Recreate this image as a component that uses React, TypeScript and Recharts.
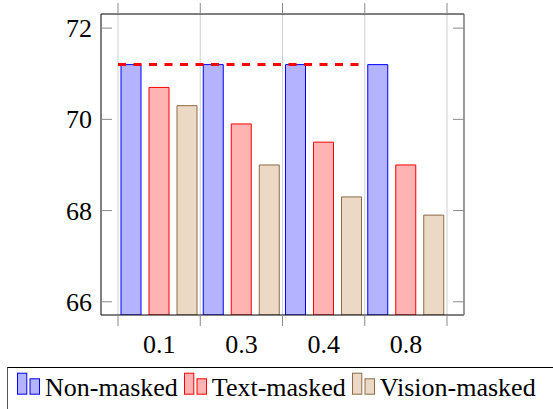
import React from 'react';
import { BarChart, Bar, XAxis, YAxis, CartesianGrid, ReferenceLine, Legend } from 'recharts';

const categories = ['0.1', '0.3', '0.4', '0.8'];
const nonMasked = [71.2, 71.2, 71.2, 71.2];
const textMasked = [70.7, 69.9, 69.5, 69.0];
const visionMasked = [70.3, 69.0, 68.3, 67.9];
const yTicks = [66, 68, 70, 72];
const yDomain = [65.71, 72.31];
const referenceValue = 71.2;
const seriesKeys = ['non', 'text', 'vision'];
const seriesNames = ['Non-masked', 'Text-masked', 'Vision-masked'];
const seriesFills = ['#b3b3ff', '#ffb3b3', '#ebd9c6'];
const seriesStrokes = ['#0000ff', '#ff0000', '#8c6b46'];

const data = categories.map((c, i) => ({
  cat: c,
  non: nonMasked[i],
  text: textMasked[i],
  vision: visionMasked[i],
}));

const FONT_X = 'Liberation Serif';
const FONT_Y = 'serif';
const FONT_L = 'Times New Roman';
const TICK_COLOR = '#8a8a8a';
const GRID_COLOR = '#cfcfcf';
const TICK_LEN = 11;
const X_PAD = 17;

const BottomTick = (props: any) => {
  const { x, y, payload, index, visibleTicksCount } = props;
  const half = payload && payload.offset != null ? payload.offset : 0;
  const isLast = index === (visibleTicksCount ?? categories.length) - 1;
  return (
    <g>
      <line x1={x - half} x2={x - half} y1={y} y2={y + TICK_LEN} stroke={TICK_COLOR} strokeWidth={1} />
      {isLast && (
        <line x1={x + half} x2={x + half} y1={y} y2={y + TICK_LEN} stroke={TICK_COLOR} strokeWidth={1} />
      )}
      <text x={x} y={y + 38} textAnchor="middle" style={{ fontFamily: FONT_X }} fontSize={26} fill="#000">
        {payload.value}
      </text>
    </g>
  );
};

const TopTick = (props: any) => {
  const { x, y, payload, index, visibleTicksCount } = props;
  const half = payload && payload.offset != null ? payload.offset : 0;
  const isLast = index === (visibleTicksCount ?? categories.length) - 1;
  return (
    <g>
      <line x1={x - half} x2={x - half} y1={y} y2={y - TICK_LEN} stroke={TICK_COLOR} strokeWidth={1} />
      {isLast && (
        <line x1={x + half} x2={x + half} y1={y} y2={y - TICK_LEN} stroke={TICK_COLOR} strokeWidth={1} />
      )}
    </g>
  );
};

const LeftTick = (props: any) => {
  const { x, y, payload } = props;
  return (
    <g>
      <line x1={x} x2={x + TICK_LEN} y1={y} y2={y} stroke={TICK_COLOR} strokeWidth={1} />
      <text x={x - 9} y={y + 9} textAnchor="end" style={{ fontFamily: FONT_Y }} fontSize={26} fill="#000">
        {payload.value}
      </text>
    </g>
  );
};

const RightTick = (props: any) => {
  const { x, y } = props;
  return <line x1={x - TICK_LEN} x2={x} y1={y} y2={y} stroke={TICK_COLOR} strokeWidth={1} />;
};

const gridX = (props: any) => {
  const s = props && props.xAxis && props.xAxis.scale;
  const call = (v: string): number => {
    if (typeof s === 'function') return s(v);
    if (s && typeof s.map === 'function') return s.map(v);
    return NaN;
  };
  const bw = s && typeof s.bandwidth === 'function' ? s.bandwidth() : NaN;
  const starts = categories.map((c) => call(c));
  const pts = [...starts, starts[starts.length - 1] + bw];
  if (pts.every((p) => typeof p === 'number' && isFinite(p))) return pts;
  const off = props.offset || {};
  const left = (off.left ?? 0) + X_PAD;
  const band = ((off.width ?? 0) - 2 * X_PAD) / categories.length;
  return [...categories.map((_, i) => left + i * band), left + categories.length * band];
};

const LegendBox = () => (
  <div
    style={{
      boxSizing: 'border-box',
      width: 580,
      height: 46,
      borderTop: '1px solid #000',
      borderLeft: '1px solid #555',
      display: 'flex',
      alignItems: 'flex-start',
      paddingLeft: 9,
      fontFamily: FONT_L,
      fontSize: 26,
      color: '#000',
      whiteSpace: 'nowrap',
    }}
  >
    {seriesNames.map((name, i) => (
      <div key={name} style={{ display: 'flex', alignItems: 'flex-start', marginRight: 6 }}>
        <svg width={23} height={30} style={{ display: 'block', marginRight: 5 }}>
          <rect x={0.5} y={5.2} width={9.3} height={21} fill={seriesFills[i]} stroke={seriesStrokes[i]} strokeWidth={1} />
          <rect x={13} y={10.8} width={9.5} height={15.4} fill={seriesFills[i]} stroke={seriesStrokes[i]} strokeWidth={1} />
        </svg>
        <span style={{ lineHeight: '26px', marginTop: 6.5 }}>{name}</span>
      </div>
    ))}
  </div>
);

export default function App() {
  return (
    <div style={{ position: 'absolute', left: 0, top: 0, width: 553, height: 409, overflow: 'hidden', background: '#fff' }}>
      <BarChart
        width={553}
        height={409}
        data={data}
        margin={{ top: 0, right: 0, bottom: 0, left: 0 }}
        barSize={20}
        barGap={8}
      >
        <CartesianGrid horizontal={false} stroke={GRID_COLOR} strokeWidth={1} verticalCoordinatesGenerator={gridX} />
        <XAxis
          dataKey="cat"
          type="category"
          height={52}
          padding={{ left: X_PAD, right: X_PAD }}
          tickSize={0}
          tickMargin={0}
          tickLine={false}
          axisLine={{ stroke: '#000', strokeWidth: 1 }}
          tick={<BottomTick />}
          interval={0}
        />
        <XAxis
          xAxisId="top"
          orientation="top"
          dataKey="cat"
          type="category"
          height={14}
          padding={{ left: X_PAD, right: X_PAD }}
          tickSize={0}
          tickMargin={0}
          tickLine={false}
          axisLine={{ stroke: '#000', strokeWidth: 1 }}
          tick={<TopTick />}
          interval={0}
        />
        <YAxis
          type="number"
          domain={yDomain}
          ticks={yTicks}
          allowDataOverflow
          width={101}
          tickSize={0}
          tickMargin={0}
          tickLine={false}
          axisLine={{ stroke: '#000', strokeWidth: 1 }}
          tick={<LeftTick />}
          interval={0}
        />
        <YAxis
          yAxisId="r"
          orientation="right"
          type="number"
          domain={yDomain}
          ticks={yTicks}
          allowDataOverflow
          width={89}
          tickSize={0}
          tickMargin={0}
          tickLine={false}
          axisLine={{ stroke: '#666', strokeWidth: 1.3 }}
          tick={<RightTick />}
          interval={0}
        />
        {seriesKeys.map((k, i) => (
          <Bar
            key={k}
            dataKey={k}
            name={seriesNames[i]}
            fill={seriesFills[i]}
            stroke={seriesStrokes[i]}
            strokeWidth={1}
            isAnimationActive={false}
          />
        ))}
        <ReferenceLine
          segment={[
            { x: categories[0], y: referenceValue },
            { x: categories[categories.length - 1], y: referenceValue },
          ]}
          position="start"
          stroke="#ff0000"
          strokeWidth={3}
          strokeDasharray="8 7.5"
        />
        <Legend
          verticalAlign="bottom"
          height={42}
          content={() => <LegendBox />}
          wrapperStyle={{ left: 7, bottom: 0, width: 580, height: 42 }}
        />
      </BarChart>
    </div>
  );
}
